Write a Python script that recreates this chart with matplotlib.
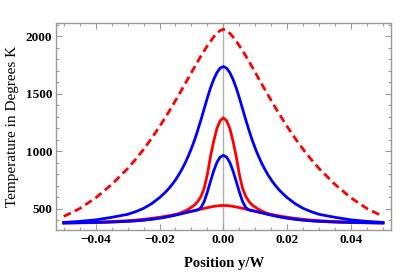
import matplotlib
matplotlib.use("Agg")
import matplotlib.pyplot as plt
from matplotlib.ticker import MultipleLocator, FuncFormatter

positions = [-0.05, -0.045, -0.04, -0.035, -0.03, -0.0275, -0.025, -0.0225,
             -0.02, -0.019, -0.018, -0.017, -0.016, -0.015, -0.014, -0.013,
             -0.012, -0.011, -0.01, -0.009, -0.008, -0.007, -0.006, -0.005,
             -0.004, -0.003, -0.002, -0.001, 0.0,
             0.001, 0.002, 0.003, 0.004, 0.005, 0.006, 0.007, 0.008,
             0.009, 0.01, 0.011, 0.012, 0.013, 0.014, 0.015, 0.016,
             0.017, 0.018, 0.019, 0.02,
             0.0225, 0.025, 0.0275, 0.03, 0.035, 0.04, 0.045, 0.05]

red_dashed = [435, 503, 596, 712, 850, 930, 1017, 1112,
              1215, 1258, 1302, 1347, 1393, 1440, 1488, 1536,
              1585, 1634, 1684, 1733, 1781, 1828, 1873, 1916,
              1956, 1993, 2025, 2048, 2058,
              2048, 2025, 1993, 1956, 1916, 1873, 1828, 1781,
              1733, 1684, 1634, 1585, 1536, 1488, 1440, 1393,
              1347, 1302, 1258, 1215,
              1112, 1017, 930, 850, 712, 596, 503, 435]

blue_broad = [383, 392, 405, 427, 453, 476, 505, 545,
              598, 623, 650, 680, 714, 752, 795, 843,
              897, 958, 1025, 1100, 1185, 1275, 1370, 1465,
              1552, 1626, 1684, 1722, 1735,
              1722, 1684, 1626, 1552, 1465, 1370, 1275, 1185,
              1100, 1025, 958, 897, 843, 795, 752, 714,
              680, 650, 623, 598,
              545, 505, 476, 453, 427, 405, 392, 383]

red_narrow = [377, 379, 382, 386, 392, 397, 403, 411,
              421, 426, 431, 437, 443, 450, 459, 470,
              482, 497, 515, 535, 565, 610, 680, 800,
              960, 1090, 1200, 1266, 1290,
              1266, 1200, 1090, 960, 800, 680, 610, 565,
              535, 515, 497, 482, 470, 459, 450, 443,
              437, 431, 426, 421,
              411, 403, 397, 392, 386, 382, 379, 377]

blue_narrow = [380, 381, 383, 387, 393, 397, 403, 410,
               420, 424, 429, 434, 440, 446, 452, 459,
               466, 473, 479, 485, 492, 512, 565, 648,
               742, 832, 905, 950, 965,
               950, 905, 832, 742, 648, 565, 512, 492,
               485, 479, 473, 466, 459, 452, 446, 440,
               434, 429, 424, 420,
               410, 403, 397, 393, 387, 383, 381, 380]

red_low = [378, 381, 385, 390, 398, 403, 410, 418,
           428, 432, 437, 442, 447, 452, 457, 463,
           468, 474, 480, 486, 492, 498, 505, 511,
           517, 522, 526, 529, 530,
           529, 526, 522, 517, 511, 505, 498, 492,
           486, 480, 474, 468, 463, 457, 452, 447,
           442, 437, 432, 428,
           418, 410, 403, 398, 390, 385, 381, 378]

RED = "#ff0000"
BLUE = "#0000ff"
GRAY = "#999999"

plt.rcParams["font.family"] = ["Liberation Serif", "DejaVu Serif"]


def fmt_x(v, pos):
    s = f"{v:.2f}"
    if s == "-0.00":
        s = "0.00"
    return s.replace("-", "\u2212")


fig = plt.figure(figsize=(4.15, 2.75), dpi=100)
ax = fig.add_axes([0.136, 0.164, 0.806, 0.751])

# Mathematica-style axis line through x = 0
ax.axvline(0, color="#b0b0b0", lw=1.0, zorder=1)

ax.plot(positions, red_dashed, color=RED, lw=2.0, dashes=(2.8, 1.6), zorder=3)
ax.plot(positions, red_narrow, color=RED, lw=2.0, zorder=3)
ax.plot(positions, red_low, color=RED, lw=2.0, zorder=3)
ax.plot(positions, blue_broad, color=BLUE, lw=2.0, zorder=4)
ax.plot(positions, blue_narrow, color=BLUE, lw=2.0, zorder=4)

ax.set_xlim(-0.0523, 0.0525)
ax.set_ylim(318, 2110)

ax.xaxis.set_major_locator(MultipleLocator(0.02))
ax.xaxis.set_minor_locator(MultipleLocator(0.005))
ax.yaxis.set_major_locator(MultipleLocator(500))
ax.yaxis.set_minor_locator(MultipleLocator(100))
ax.xaxis.set_major_formatter(FuncFormatter(fmt_x))

for side in ax.spines.values():
    side.set_color(GRAY)
    side.set_linewidth(1.0)

ax.tick_params(which="both", direction="in", top=True, right=True,
               color=GRAY, width=0.8)
ax.tick_params(which="major", length=4, labelsize=9.5, pad=3)
ax.tick_params(which="minor", length=2)
for lab in ax.get_xticklabels() + ax.get_yticklabels():
    lab.set_fontweight("bold")

ax.set_xlabel("Position y/W", fontsize=10.5, fontweight="bold", labelpad=8)
ax.set_ylabel("Temperature in Degrees K", fontsize=11, labelpad=5)

fig.savefig("out.png", dpi=100)
